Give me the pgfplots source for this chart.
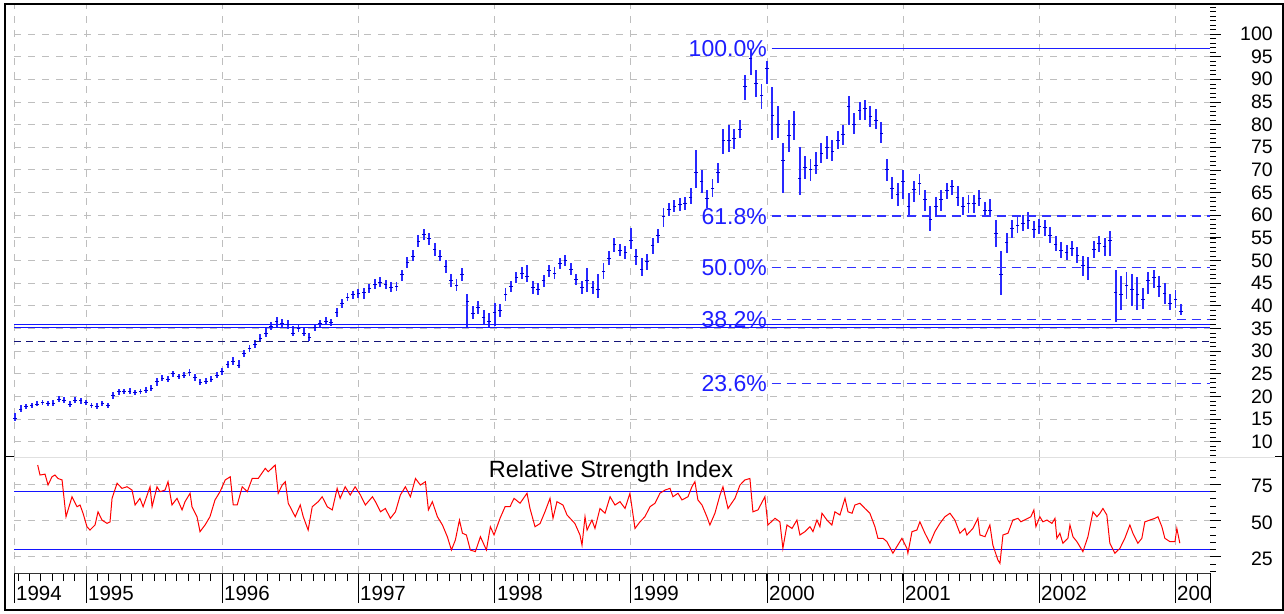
\documentclass[border=0pt]{standalone}
\usepackage{fontspec}
\setmainfont{Liberation Sans}
\usepackage{pgfplots}
\usepackage{pgfplotstable}
\pgfplotsset{compat=1.18}
\definecolor{barblue}{RGB}{40,40,255}
\definecolor{tickblue}{RGB}{0,0,210}
\definecolor{fibblue}{RGB}{30,30,255}
\definecolor{fibdash}{RGB}{50,50,255}
\definecolor{gridgray}{RGB}{190,190,190}
\definecolor{rsired}{RGB}{255,0,0}
\definecolor{bandblue}{RGB}{20,20,255}
\definecolor{darkdash}{RGB}{20,20,120}

\pgfplotstableread{
x c l h
1994.48 15.2 14.5 16.3
1994.52 17.2 16.6 18.0
1994.56 17.8 17.2 18.4
1994.60 18.0 17.5 18.6
1994.64 18.3 17.8 18.9
1994.68 18.6 18.0 19.3
1994.72 18.4 17.9 19.0
1994.76 18.5 17.8 19.3
1994.80 19.3 18.7 20.0
1994.84 19.2 18.6 19.9
1994.88 18.3 17.6 19.0
1994.92 19.2 18.5 19.9
1994.96 19.0 18.4 19.6
1995.00 18.6 18.0 19.2
1995.04 18.0 17.4 18.6
1995.08 17.8 17.2 18.5
1995.12 18.4 17.8 19.0
1995.16 18.0 17.4 18.6
1995.20 20.3 19.5 21.0
1995.24 21.0 20.4 21.6
1995.28 21.0 20.5 21.6
1995.32 21.2 20.6 21.8
1995.36 20.9 20.3 21.5
1995.40 21.1 20.5 21.7
1995.44 21.4 20.8 22.0
1995.48 21.8 21.2 22.6
1995.52 23.2 22.4 24.0
1995.56 24.0 23.4 24.8
1995.60 23.8 23.2 24.6
1995.64 25.0 24.3 25.7
1995.68 24.4 23.8 25.0
1995.72 24.6 24.0 25.3
1995.76 25.3 24.6 26.0
1995.80 24.2 23.5 25.0
1995.84 23.1 22.5 23.8
1995.88 23.4 22.8 24.1
1995.92 23.8 23.2 24.5
1995.96 24.6 24.0 25.3
1996.00 25.4 24.8 26.2
1996.04 27.0 26.2 27.8
1996.08 27.8 27.0 28.6
1996.12 26.8 26.2 28.0
1996.16 29.4 28.6 30.2
1996.20 30.5 29.8 31.4
1996.24 31.5 30.7 32.4
1996.28 32.8 32.0 33.8
1996.32 34.0 33.2 35.0
1996.36 35.4 34.6 36.4
1996.40 36.5 35.4 37.5
1996.44 36.0 35.0 37.0
1996.48 35.8 34.8 36.8
1996.52 34.0 33.3 35.5
1996.56 35.0 34.2 35.9
1996.60 34.0 33.3 35.0
1996.64 33.0 32.2 34.0
1996.68 35.2 34.4 36.0
1996.72 36.0 35.2 36.8
1996.76 36.6 35.8 37.6
1996.80 36.3 35.5 37.0
1996.84 38.6 37.5 39.5
1996.88 40.5 39.5 41.5
1996.92 41.8 41.0 42.8
1996.96 42.5 41.6 43.3
1997.00 42.8 41.8 43.8
1997.04 43.0 41.6 44.0
1997.08 43.8 42.8 44.8
1997.12 44.8 43.8 46.0
1997.16 45.2 44.2 46.4
1997.20 44.6 43.6 45.8
1997.24 44.0 43.0 45.2
1997.28 44.2 43.2 45.3
1997.32 47.0 45.5 48.0
1997.36 49.5 48.3 50.7
1997.40 51.0 49.8 52.3
1997.44 54.3 53.0 55.6
1997.48 55.8 54.5 57.0
1997.52 54.8 53.4 56.0
1997.56 52.5 51.0 53.8
1997.60 51.0 49.8 52.3
1997.64 48.6 47.3 50.0
1997.68 45.5 44.2 47.0
1997.72 44.4 43.2 46.0
1997.76 47.0 45.5 48.4
1997.80 41.0 35.0 42.5
1997.84 38.4 37.0 40.0
1997.88 39.6 38.2 41.0
1997.92 37.5 36.0 39.0
1997.96 36.5 35.4 38.5
1998.00 38.5 35.5 40.6
1998.04 39.0 37.5 40.5
1998.08 42.5 41.0 44.0
1998.12 44.2 43.0 45.5
1998.16 46.2 45.0 47.5
1998.20 47.2 46.0 48.5
1998.24 46.5 45.2 49.0
1998.28 44.0 42.5 45.5
1998.32 43.5 42.4 45.0
1998.36 45.5 44.2 46.8
1998.40 47.7 46.3 49.0
1998.44 47.2 46.0 48.5
1998.48 49.4 48.2 50.6
1998.52 50.0 48.7 51.2
1998.56 48.0 46.8 49.5
1998.60 45.8 44.5 47.0
1998.64 44.0 42.5 45.5
1998.68 45.7 43.0 48.3
1998.72 44.0 42.5 45.5
1998.76 43.5 41.7 47.0
1998.80 47.5 46.0 49.5
1998.84 50.5 49.0 52.0
1998.88 53.5 51.8 55.0
1998.92 52.3 51.0 53.6
1998.96 51.8 50.3 53.2
1999.00 54.5 52.5 57.1
1999.04 50.8 49.0 52.5
1999.08 48.0 46.5 50.5
1999.12 49.8 48.0 51.5
1999.16 53.3 51.5 55.0
1999.20 55.5 53.8 57.0
1999.24 59.7 57.5 61.5
1999.28 61.2 59.8 62.6
1999.32 62.0 60.8 63.4
1999.36 62.4 61.0 63.8
1999.40 62.5 61.2 64.0
1999.44 64.0 62.4 66.0
1999.48 69.5 66.0 74.4
1999.52 67.5 65.0 70.0
1999.56 63.6 61.6 65.5
1999.60 66.0 64.0 68.0
1999.64 69.5 67.2 71.5
1999.68 76.6 73.5 79.0
1999.72 76.5 74.0 80.0
1999.76 77.0 74.5 79.0
1999.80 79.0 77.0 81.0
1999.84 88.5 85.5 91.0
1999.88 94.5 91.0 96.6
1999.92 89.0 86.0 92.0
1999.96 86.5 83.5 89.0
2000.00 92.5 89.0 94.0
2000.04 82.0 76.6 88.4
2000.08 80.0 77.0 84.0
2000.12 72.0 64.9 76.0
2000.16 77.5 74.0 81.0
2000.20 80.0 76.5 83.0
2000.24 68.0 64.5 75.0
2000.28 70.5 68.0 73.0
2000.32 70.0 67.5 72.5
2000.36 71.0 69.0 74.0
2000.40 73.7 71.5 76.0
2000.44 75.0 72.5 77.5
2000.48 74.0 72.0 76.5
2000.52 76.5 74.5 78.5
2000.56 77.8 75.5 80.0
2000.60 84.0 80.0 86.2
2000.64 80.0 78.0 82.5
2000.68 83.2 81.0 85.0
2000.72 83.5 81.0 85.4
2000.76 81.7 79.5 84.0
2000.80 81.0 79.0 83.5
2000.84 78.0 76.0 80.5
2000.88 70.0 67.5 72.5
2000.92 66.0 63.5 68.5
2000.96 64.5 62.0 67.0
2001.00 67.5 63.5 70.0
2001.04 62.0 59.5 65.0
2001.08 65.6 63.0 67.5
2001.12 67.0 64.5 69.0
2001.16 63.4 61.0 65.5
2001.20 59.0 56.4 62.0
2001.24 61.9 59.5 64.0
2001.28 63.4 61.0 65.5
2001.32 65.5 63.5 67.0
2001.36 66.3 64.5 67.8
2001.40 64.0 62.0 66.5
2001.44 62.0 60.0 64.0
2001.48 62.6 60.5 64.5
2001.52 62.6 60.5 64.5
2001.56 63.7 62.0 65.5
2001.60 61.1 59.5 63.0
2001.64 61.0 59.5 63.5
2001.68 56.0 53.0 59.0
2001.72 47.0 42.4 52.0
2001.76 54.0 51.6 56.0
2001.80 57.0 55.0 59.0
2001.84 57.8 56.0 59.5
2001.88 58.2 56.5 60.0
2001.92 58.8 57.0 60.8
2001.96 56.9 55.0 58.8
2002.00 57.5 55.8 59.2
2002.04 57.3 55.5 59.0
2002.08 55.5 53.8 57.3
2002.12 53.6 52.0 55.4
2002.16 52.2 50.5 54.0
2002.20 51.8 50.0 53.5
2002.24 52.6 51.0 54.4
2002.28 51.2 49.5 53.0
2002.32 49.0 46.5 51.0
2002.36 48.5 45.7 50.8
2002.40 52.5 50.5 54.2
2002.44 53.8 51.8 55.5
2002.48 53.0 51.0 55.0
2002.52 54.5 51.0 56.5
2002.56 43.0 36.5 48.0
2002.60 42.6 39.0 46.5
2002.64 44.5 41.5 47.5
2002.68 43.5 40.0 47.0
2002.72 42.5 39.0 46.4
2002.76 41.5 39.2 44.0
2002.80 45.5 42.5 47.5
2002.84 46.2 44.0 48.0
2002.88 44.2 42.0 46.5
2002.92 42.8 40.5 45.0
2002.96 40.6 39.0 42.5
2003.00 41.3 39.5 43.5
2003.04 38.7 38.0 40.5
}\price

\pgfplotstableread{
x r
1994.645 88.3
1994.662 81.4
1994.699 82.0
1994.721 74.5
1994.750 80.2
1994.772 81.4
1994.794 79.0
1994.824 78.0
1994.853 52.6
1994.897 66.4
1994.934 59.5
1994.956 60.7
1994.978 55.0
1995.007 45.7
1995.029 43.4
1995.066 46.9
1995.088 56.0
1995.117 50.3
1995.154 48.0
1995.176 49.0
1995.191 65.3
1995.228 75.7
1995.264 72.2
1995.301 73.3
1995.338 71.0
1995.360 60.7
1995.396 65.3
1995.419 59.5
1995.470 73.3
1995.485 59.5
1995.521 73.3
1995.543 69.9
1995.580 71.0
1995.602 76.8
1995.631 60.7
1995.668 65.3
1995.705 57.3
1995.727 63.0
1995.764 68.8
1995.778 59.5
1995.815 52.6
1995.837 42.3
1995.874 46.9
1995.910 52.6
1995.947 64.2
1995.984 69.9
1996.022 78.0
1996.059 80.2
1996.081 60.7
1996.110 60.7
1996.147 73.3
1996.184 69.9
1996.220 79.0
1996.264 79.0
1996.316 86.0
1996.338 83.7
1996.389 88.3
1996.411 68.8
1996.441 74.5
1996.463 76.8
1996.485 61.9
1996.536 52.6
1996.573 60.7
1996.595 52.6
1996.631 43.4
1996.661 59.5
1996.705 63.0
1996.734 66.4
1996.771 59.5
1996.808 57.3
1996.844 72.2
1996.866 65.3
1996.903 73.3
1996.940 67.6
1996.976 73.3
1997.015 67.6
1997.051 60.7
1997.103 66.4
1997.125 63.0
1997.162 56.0
1997.198 58.3
1997.235 51.5
1997.272 56.0
1997.308 67.6
1997.345 73.3
1997.382 66.4
1997.419 79.0
1997.455 74.5
1997.492 76.8
1997.514 57.3
1997.543 63.0
1997.580 52.6
1997.617 46.9
1997.653 38.8
1997.683 29.6
1997.712 36.5
1997.742 50.3
1997.764 41.2
1997.793 40.0
1997.822 29.6
1997.859 28.5
1997.896 38.8
1997.940 29.6
1997.969 45.7
1997.996 40.0
1998.040 51.5
1998.077 59.5
1998.113 59.5
1998.143 65.3
1998.187 61.9
1998.238 68.8
1998.260 58.3
1998.297 45.7
1998.334 47.9
1998.370 56.0
1998.407 65.3
1998.429 51.5
1998.458 63.0
1998.502 60.7
1998.532 53.8
1998.590 47.9
1998.627 40.0
1998.642 33.0
1998.664 52.6
1998.679 43.4
1998.715 50.3
1998.737 44.5
1998.774 58.3
1998.811 55.0
1998.848 66.4
1998.884 60.7
1998.921 63.0
1998.958 58.3
1998.994 68.8
1999.031 44.5
1999.068 49.1
1999.104 52.6
1999.141 59.5
1999.178 61.9
1999.214 68.8
1999.251 71.0
1999.288 72.2
1999.310 66.4
1999.347 68.8
1999.376 64.2
1999.420 66.4
1999.449 73.3
1999.471 76.8
1999.493 64.2
1999.523 60.7
1999.559 52.6
1999.581 46.9
1999.618 55.0
1999.655 67.6
1999.677 73.3
1999.714 58.3
1999.765 65.3
1999.802 74.5
1999.838 78.0
1999.875 79.0
1999.897 56.0
1999.934 57.3
1999.985 66.4
2000.007 46.9
2000.059 51.5
2000.095 49.1
2000.117 30.8
2000.147 46.9
2000.184 44.5
2000.220 50.3
2000.242 40.0
2000.279 42.3
2000.316 45.7
2000.338 42.3
2000.367 50.3
2000.389 45.7
2000.404 55.0
2000.441 50.3
2000.477 46.9
2000.499 56.0
2000.536 53.8
2000.573 65.3
2000.595 56.0
2000.625 55.0
2000.646 60.7
2000.683 61.9
2000.720 58.3
2000.756 55.0
2000.793 45.7
2000.815 37.7
2000.852 37.7
2000.881 35.4
2000.925 27.4
2000.954 32.0
2000.991 37.7
2001.028 30.8
2001.035 27.4
2001.065 42.3
2001.101 43.4
2001.123 49.1
2001.160 41.2
2001.197 34.3
2001.233 42.3
2001.270 48.0
2001.307 52.6
2001.344 55.0
2001.380 50.3
2001.417 41.2
2001.454 44.5
2001.468 40.0
2001.512 44.5
2001.549 51.5
2001.564 40.0
2001.601 38.8
2001.637 46.9
2001.659 33.0
2001.696 22.7
2001.711 20.4
2001.733 40.0
2001.770 41.2
2001.806 50.3
2001.843 51.5
2001.865 49.1
2001.916 51.5
2001.938 52.6
2001.960 57.3
2001.975 45.7
2002.004 52.6
2002.026 49.1
2002.056 50.3
2002.093 48.0
2002.115 51.5
2002.129 37.7
2002.151 41.2
2002.173 34.3
2002.210 37.7
2002.225 46.9
2002.247 38.8
2002.276 35.4
2002.320 28.5
2002.357 38.8
2002.394 56.0
2002.423 52.6
2002.445 55.0
2002.467 58.3
2002.496 53.8
2002.518 34.3
2002.555 27.4
2002.592 30.8
2002.628 37.7
2002.665 46.9
2002.687 41.2
2002.724 34.3
2002.753 37.7
2002.775 49.1
2002.812 50.3
2002.849 51.5
2002.871 52.6
2002.900 45.7
2002.922 37.7
2002.959 35.4
2002.996 35.4
2003.010 44.5
2003.032 34.3
}\rsi

\begin{document}
\begin{tikzpicture}[x=1pt,y=1pt]
\useasboundingbox (0,0) rectangle (1284,613);
\fill[white] (0,0) rectangle (1284,613);

% ---------------- price panel ----------------
\begin{axis}[
  at={(14pt,156pt)}, anchor=south west, scale only axis,
  width=1196pt, height=453pt,
  xmin=1994.471, xmax=2003.253, ymin=6.62, ymax=106.62,
  axis line style={draw=none},
  xtick={1994.471,1995,1996,1997,1998,1999,2000,2001,2002,2003},
  xticklabels={},
  xtick style={/pgfplots/major tick length=0pt},
  ytick={10,15,...,100},
  minor ytick={7,8,...,106},
  ytick pos=right, yticklabel pos=right,
  tick align=outside,
  major tick length=11pt, minor tick length=6pt,
  ytick style={black, line width=0.7pt},
  minor y tick style={black, line width=0.6pt},
  yticklabel style={font=\fontsize{19.5}{20}\selectfont, anchor=east, inner sep=0pt, xshift=52pt},
  /pgf/number format/assume math mode=true,
  grid=major,
  major grid style={gridgray, dash pattern=on 7pt off 7pt, line width=0.8pt},
]
\addplot[only marks, mark=-, mark size=1.8pt, mark options={tickblue, line width=0.9pt},
  error bars/.cd, y dir=both, y explicit, error mark=none,
  error bar style={barblue, line width=1.9pt}]
  table[x=x, y=c, y error plus expr=\thisrow{h}-\thisrow{c}, y error minus expr=\thisrow{c}-\thisrow{l}]{\price};
% Fibonacci retracement levels
\addplot[fibblue, line width=1.5pt] coordinates {(2000.035,96.8) (2003.253,96.8)};
\addplot[fibdash, line width=1.5pt, dash pattern=on 9pt off 6pt] coordinates {(2000.035,59.8) (2003.253,59.8)};
\addplot[fibdash, line width=1.5pt, dash pattern=on 9pt off 6pt] coordinates {(2000.035,48.4) (2003.253,48.4)};
\addplot[fibdash, line width=1.5pt, dash pattern=on 9pt off 6pt] coordinates {(2000.035,36.98) (2003.253,36.98)};
\addplot[fibdash, line width=1.5pt, dash pattern=on 9pt off 6pt] coordinates {(2000.035,22.84) (2003.253,22.84)};
% support lines
\addplot[bandblue, line width=1.5pt] coordinates {(1994.471,35.9) (2003.253,35.9)};
\addplot[bandblue, line width=1.5pt] coordinates {(1994.471,35.25) (2003.253,35.25)};
\addplot[darkdash, line width=1.2pt, dash pattern=on 7pt off 5pt] coordinates {(1994.471,32.1) (2003.253,32.1)};
\node[anchor=east, inner sep=0pt, text=fibblue, font=\fontsize{23}{24}\selectfont] at (axis cs:2000.0,96.8) {100.0\%};
\node[anchor=east, inner sep=0pt, text=fibblue, font=\fontsize{23}{24}\selectfont] at (axis cs:2000.0,59.8) {61.8\%};
\node[anchor=east, inner sep=0pt, text=fibblue, font=\fontsize{23}{24}\selectfont] at (axis cs:2000.0,48.4) {50.0\%};
\node[anchor=east, inner sep=0pt, text=fibblue, font=\fontsize{23}{24}\selectfont] at (axis cs:2000.0,36.98) {38.2\%};
\node[anchor=east, inner sep=0pt, text=fibblue, font=\fontsize{23}{24}\selectfont] at (axis cs:2000.0,22.84) {23.6\%};
\end{axis}

% ---------------- RSI panel ----------------
\begin{axis}[
  at={(14pt,40pt)}, anchor=south west, scale only axis,
  width=1196pt, height=116pt,
  xmin=1994.471, xmax=2003.253, ymin=13.74, ymax=93.85,
  axis x line*=bottom, axis y line*=right,
  axis line style={-},
  y axis line style={draw=none},
  x axis line style={black!80, line width=0.8pt},
  xtick={1994.471,1995,1996,1997,1998,1999,2000,2001,2002,2003},
  extra x ticks={2003.253}, extra x tick style={grid=none},
  extra x tick labels={},
  minor xtick={1994.5,1994.5833333,...,2003.2},
  xticklabels={},
  tick align=outside,
  major tick length=11pt, minor tick length=6pt,
  xtick style={black, line width=0.7pt, /pgfplots/major tick length=30pt},
  minor x tick style={black, line width=0.7pt, /pgfplots/minor tick length=8pt},
  ytick={25,50,75},
  minor ytick={15,20,...,90},
  ytick style={black, line width=0.7pt},
  minor y tick style={black, line width=0.6pt},
  yticklabel style={font=\fontsize{19.5}{20}\selectfont, anchor=east, inner sep=0pt, xshift=52pt, yshift=-2pt},
  /pgf/number format/assume math mode=true,
  grid=major,
  major grid style={gridgray, dash pattern=on 7pt off 7pt, line width=0.8pt},
]
\addplot[bandblue, line width=1.5pt] coordinates {(1994.471,70) (2003.253,70)};
\addplot[bandblue, line width=1.5pt] coordinates {(1994.471,30) (2003.253,30)};
\addplot[rsired, line width=1pt] table[x=x, y=r]{\rsi};
\end{axis}

% title of RSI panel
\node[anchor=base, inner sep=0pt, font=\fontsize{23.5}{24}\selectfont] at (611,135) {Relative Strength Index};

% year labels
\foreach \px/\yr in {16/1994, 88/1995, 224/1996, 360/1997, 497/1998, 633/1999, 769/2000, 905/2001, 1041/2002, 1177/200}
  \node[anchor=base west, inner sep=0pt, font=\fontsize{20.5}{21}\selectfont] at (\px,12.4) {\yr};

% panel separator and frame
\draw[black!12, line width=0.8pt] (14,156) -- (1275,156);
\draw[black, line width=1pt] (5,156) -- (14,156);
\draw[black, line width=1pt] (1275,156) -- (1283,156);
\draw[black, line width=1.6pt] (5,3) rectangle (1283,609);
\end{tikzpicture}
\end{document}
